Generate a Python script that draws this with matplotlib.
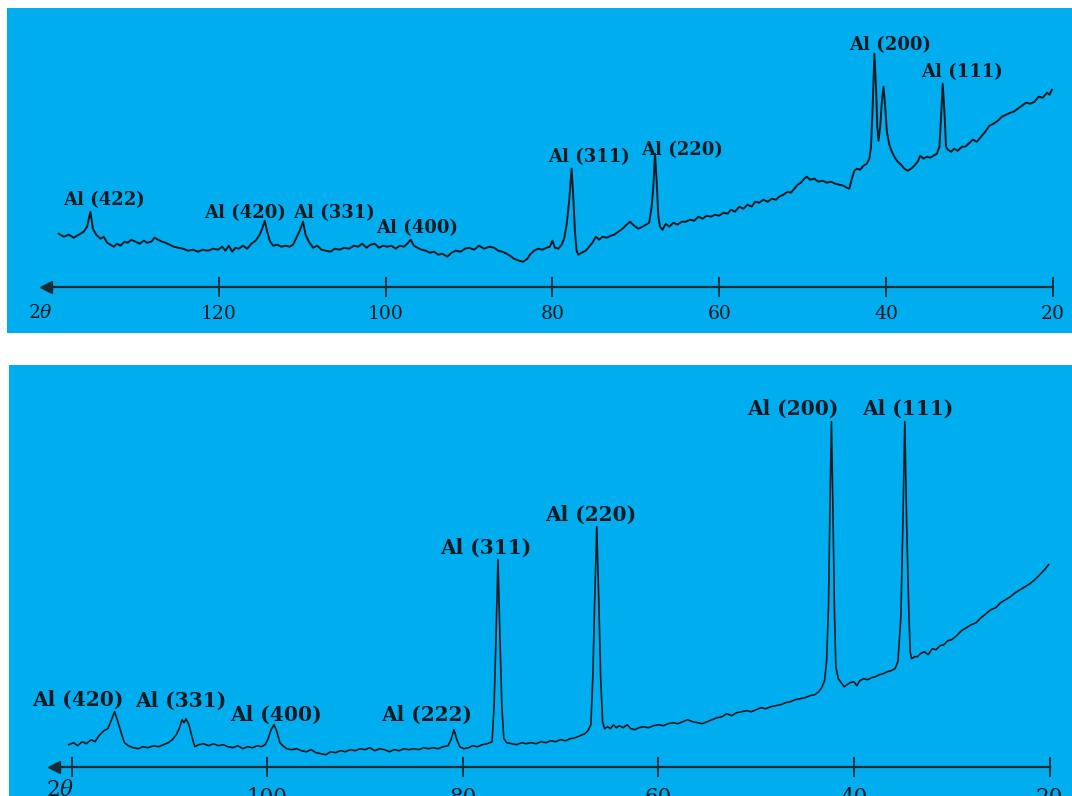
import matplotlib
matplotlib.use("Agg")
import matplotlib.pyplot as plt
import numpy as np

# ---------------- data: as-received sample (upper pattern) ----------------
top_two_theta = [
    139.2, 138.6, 138.0, 137.4, 136.8, 136.2, 135.8, 135.4, 135.1, 134.7,
    134.2, 133.8, 133.4, 133.0, 132.6, 132.2, 131.8, 131.3, 130.9, 130.5,
    130.0, 129.5, 129.0, 128.6, 128.1, 127.7, 127.3, 126.8, 126.4, 125.9,
    125.4, 124.9, 124.3, 123.7, 123.1, 122.5, 121.9, 121.3, 120.7, 120.1,
    119.6, 119.2, 118.8, 118.4, 118.0, 117.6, 117.1, 116.6, 116.1, 115.6,
    115.1, 114.8, 114.5, 114.2, 113.9, 113.5, 113.0, 112.5, 112.0, 111.5,
    111.1, 110.7, 110.3, 109.9, 109.6, 109.2, 108.7, 108.2, 107.7, 107.2,
    106.6, 106.1, 105.5, 105.0, 104.4, 103.8, 103.3, 102.8, 102.3, 101.8,
    101.3, 100.8, 100.3, 99.8, 99.3, 98.8, 98.3, 97.8, 97.4, 97.0,
    96.6, 96.2, 95.7, 95.2, 94.7, 94.2, 93.7, 93.2, 92.6, 92.1,
    91.6, 91.0, 90.5, 90.0, 89.4, 88.8, 88.2, 87.6, 87.0, 86.5,
    86.0, 85.5, 85.1, 84.6, 84.0, 83.5, 83.0, 82.7, 82.2, 81.7,
    81.2, 80.7, 80.3, 80.0, 79.7, 79.3, 78.9, 78.6, 78.3, 78.0,
    77.7, 77.5, 77.3, 77.1, 76.9, 76.5, 76.0, 75.6, 75.2, 74.8,
    74.4, 74.0, 73.5, 73.0, 72.6, 72.1, 71.6, 71.1, 70.7, 70.2,
    69.7, 69.2, 68.8, 68.4, 68.1, 67.9, 67.7, 67.5, 67.3, 67.1,
    66.8, 66.4, 66.0, 65.5, 65.0, 64.5, 64.0, 63.5, 63.0, 62.5,
    62.0, 61.5, 61.0, 60.5, 60.0, 59.5, 59.0, 58.6, 58.1, 57.6,
    57.1, 56.6, 56.1, 55.7, 55.2, 54.7, 54.2, 53.7, 53.2, 52.8,
    52.3, 51.8, 51.4, 51.0, 50.6, 50.2, 49.8, 49.5, 49.1, 48.6,
    48.1, 47.6, 47.1, 46.6, 46.1, 45.6, 45.1, 44.7, 44.4, 44.1,
    43.8, 43.5, 43.1, 42.7, 42.3, 42.0, 41.8, 41.6, 41.4, 41.2,
    41.05, 40.9, 40.7, 40.5, 40.3, 40.1, 39.9, 39.6, 39.3, 39.0,
    38.6, 38.2, 37.8, 37.4, 37.0, 36.6, 36.2, 35.9, 35.5, 35.1,
    34.7, 34.3, 33.9, 33.6, 33.4, 33.2, 33.0, 32.8, 32.6, 32.2,
    31.8, 31.4, 30.9, 30.5, 30.1, 29.6, 29.1, 28.6, 28.1, 27.6,
    27.1, 26.6, 26.1, 25.6, 25.1, 24.7, 24.2, 23.7, 23.2, 22.7,
    22.2, 21.7, 21.2, 20.7, 20.4, 20.1,
]
top_intensity = [
    53, 50, 52, 49, 52, 55, 60, 75, 58, 52,
    48, 50, 44, 42, 40, 43, 41, 45, 44, 47,
    45, 43, 46, 44, 45, 49, 47, 45, 44, 42,
    40, 39, 38, 36, 37, 35, 37, 36, 38, 37,
    40, 36, 41, 35, 39, 38, 41, 38, 43, 46,
    52, 58, 66, 55, 46, 41, 42, 40, 41, 40,
    42, 49, 56, 65, 52, 45, 39, 41, 37, 36,
    35, 38, 37, 39, 38, 41, 40, 43, 39, 42,
    43, 39, 41, 40, 41, 38, 41, 40, 43, 47,
    41, 39, 37, 36, 34, 35, 32, 33, 30, 34,
    36, 35, 38, 39, 37, 41, 38, 40, 39, 36,
    35, 33, 31, 28, 26, 25, 28, 32, 36, 38,
    37, 39, 40, 46, 39, 38, 42, 48, 62, 85,
    118, 90, 55, 36, 32, 34, 36, 40, 44, 50,
    47, 50, 49, 51, 52, 55, 58, 62, 65, 61,
    58, 60, 62, 64, 80, 100, 133, 105, 70, 60,
    57, 63, 60, 64, 62, 65, 65, 67, 66, 70,
    68, 71, 70, 72, 71, 74, 73, 77, 75, 80,
    78, 82, 80, 85, 84, 87, 85, 88, 87, 90,
    92, 95, 94, 98, 102, 104, 108, 110, 107, 108,
    105, 106, 104, 105, 103, 102, 101, 99, 98, 108,
    116, 118, 117, 121, 123, 128, 140, 180, 233, 200,
    160, 146, 160, 185, 200, 180, 155, 142, 135, 130,
    125, 122, 118, 116, 118, 121, 125, 131, 128, 130,
    129, 131, 133, 140, 170, 203, 175, 140, 137, 135,
    138, 136, 140, 140, 143, 147, 145, 150, 155, 161,
    163, 166, 170, 172, 174, 175, 178, 181, 184, 183,
    185, 190, 189, 194, 192, 197,
]
top_peak_labels = ["Al (422)", "Al (420)", "Al (331)", "Al (400)",
                   "Al (311)", "Al (220)", "Al (200)", "Al (111)"]

# ---------------- data: treated sample (lower pattern) ----------------
bottom_two_theta = [
    120.3, 119.8, 119.4, 118.9, 118.5, 118.0, 117.6, 117.2, 116.7, 116.3,
    116.0, 115.6, 115.3, 115.0, 114.6, 114.2, 113.7, 113.2, 112.7, 112.2,
    111.6, 111.1, 110.6, 110.1, 109.7, 109.3, 109.0, 108.7, 108.5, 108.3,
    108.0, 107.7, 107.4, 107.0, 106.5, 106.0, 105.5, 105.0, 104.5, 104.0,
    103.5, 103.0, 102.5, 102.0, 101.5, 101.0, 100.6, 100.2, 99.9, 99.6,
    99.3, 99.0, 98.7, 98.4, 98.0, 97.5, 97.0, 96.5, 96.0, 95.5,
    95.0, 94.5, 94.0, 93.5, 93.0, 92.5, 92.0, 91.5, 91.0, 90.5,
    90.0, 89.5, 89.0, 88.5, 88.0, 87.5, 87.0, 86.5, 86.0, 85.5,
    85.0, 84.5, 84.0, 83.5, 83.0, 82.5, 82.0, 81.5, 81.2, 80.9,
    80.6, 80.3, 79.9, 79.4, 79.0, 78.5, 78.0, 77.5, 77.0, 76.8,
    76.6, 76.4, 76.2, 76.0, 75.8, 75.5, 75.0, 74.5, 74.0, 73.5,
    73.0, 72.5, 72.0, 71.5, 71.0, 70.5, 70.0, 69.5, 69.0, 68.5,
    68.0, 67.5, 67.2, 66.9, 66.7, 66.5, 66.3, 66.1, 65.9, 65.7,
    65.5, 65.2, 64.9, 64.6, 64.3, 64.0, 63.6, 63.2, 62.8, 62.4,
    62.0, 61.5, 61.0, 60.5, 60.0, 59.5, 59.0, 58.5, 58.0, 57.5,
    57.0, 56.5, 56.0, 55.5, 55.0, 54.5, 54.0, 53.5, 53.0, 52.5,
    52.0, 51.5, 51.0, 50.5, 50.0, 49.5, 49.0, 48.5, 48.0, 47.5,
    47.0, 46.5, 46.0, 45.5, 45.0, 44.5, 44.0, 43.6, 43.3, 43.0,
    42.8, 42.6, 42.45, 42.3, 42.15, 42.0, 41.85, 41.6, 41.3, 41.0,
    40.7, 40.4, 40.0, 39.7, 39.4, 39.0, 38.6, 38.2, 37.8, 37.4,
    37.0, 36.6, 36.2, 35.8, 35.5, 35.2, 35.0, 34.8, 34.6, 34.4,
    34.25, 34.1, 33.8, 33.5, 33.2, 32.8, 32.4, 32.0, 31.6, 31.2,
    30.8, 30.4, 30.0, 29.5, 29.0, 28.5, 28.0, 27.5, 27.0, 26.5,
    26.0, 25.5, 25.0, 24.5, 24.0, 23.5, 23.0, 22.5, 22.0, 21.5,
    21.0, 20.5, 20.1,
]
bottom_intensity = [
    22, 24, 21, 25, 23, 27, 25, 31, 36, 38,
    45, 55, 46, 36, 24, 21, 19, 18, 20, 19,
    21, 20, 22, 24, 27, 32, 38, 47, 44, 48,
    42, 30, 20, 22, 23, 21, 23, 21, 22, 20,
    19, 21, 18, 20, 19, 21, 20, 22, 28, 37,
    42, 35, 24, 21, 18, 17, 18, 16, 15, 17,
    14, 13, 12, 15, 14, 16, 15, 17, 16, 18,
    17, 19, 16, 18, 17, 15, 17, 16, 18, 17,
    18, 17, 19, 18, 19, 18, 20, 21, 27, 37,
    27, 20, 18, 19, 21, 20, 22, 23, 25, 60,
    130, 207, 130, 60, 28, 24, 23, 22, 24, 23,
    24, 23, 25, 24, 26, 25, 27, 26, 28, 29,
    31, 33, 36, 42, 90, 170, 240, 170, 90, 45,
    38, 40, 38, 42, 39, 41, 39, 42, 38, 37,
    39, 40, 39, 41, 42, 41, 43, 44, 43, 45,
    47, 45, 44, 43, 45, 47, 49, 50, 53, 51,
    54, 55, 56, 55, 57, 59, 58, 60, 61, 62,
    64, 65, 67, 68, 69, 71, 72, 75, 79, 86,
    105, 160, 260, 345, 260, 160, 100, 88, 84, 80,
    82, 84, 85, 81, 86, 88, 87, 89, 90, 92,
    93, 95, 96, 98, 105, 150, 240, 345, 240, 160,
    115, 108, 110, 110, 113, 115, 112, 118, 117, 121,
    122, 126, 127, 131, 136, 139, 142, 144, 149, 153,
    157, 159, 164, 167, 170, 174, 177, 180, 183, 187,
    192, 197, 202,
]
bottom_peak_labels = ["Al (420)", "Al (331)", "Al (400)", "Al (222)",
                      "Al (311)", "Al (220)", "Al (200)", "Al (111)"]

tick_values = [120, 100, 80, 60, 40, 20]

# ---------------- layout / style ----------------
W, H = 1072, 796
PANEL = "#00AEEF"
INK = "#0e1a22"
AXIS = "#1b2b36"

plt.rcParams["mathtext.fontset"] = "dejavuserif"
fig = plt.figure(figsize=(W / 100, H / 100), dpi=100, facecolor="white")


def panel(rect_px, xlim, ylim):
    x0, y0, x1, y1 = rect_px
    ax = fig.add_axes([x0 / W, 1 - y1 / H, (x1 - x0) / W, (y1 - y0) / H])
    ax.set_facecolor(PANEL)
    ax.set_xlim(*xlim)
    ax.set_ylim(*ylim)
    for s in ("top", "left", "right"):
        ax.spines[s].set_visible(False)
    ax.spines["bottom"].set_position(("data", 0))
    ax.spines["bottom"].set_color(AXIS)
    ax.spines["bottom"].set_linewidth(1.6)
    ax.set_yticks([])
    return ax


def draw(ax, tt, ii, labels, label_pos, label_size, tick_size, tick_pad,
         arrow_x, theta_px, lw):
    ax.plot(tt, ii, color=INK, lw=lw, solid_joinstyle="round")
    ax.spines["bottom"].set_bounds(20, arrow_x)
    ax.plot([arrow_x], [0], marker="<", ms=9, color=AXIS, clip_on=False)
    ax.set_xticks(tick_values)
    ax.tick_params(axis="x", direction="inout", length=15, width=1.3,
                   color=AXIS, pad=tick_pad, labelcolor=INK,
                   labelsize=tick_size)
    for lab in ax.get_xticklabels():
        lab.set_family("DejaVu Serif")
    for text, (tx, ty) in zip(labels, label_pos):
        ax.text(tx, ty, text, ha="center", va="center", color=INK,
                fontsize=label_size, family="DejaVu Serif",
                fontweight="bold")
    ax.text(theta_px[0], theta_px[1], r"2$\theta$", ha="center", va="center",
            color=INK, fontsize=tick_size, family="DejaVu Serif")


# upper panel: 8.34 px per degree, axis line at y = 286.7 px
ax1 = panel((7, 8, 1072, 333), (145.4, 17.7), (-46.3, 278.7))
top_label_pos = [(133.8, 86.7), (116.9, 73.7), (106.2, 73.7), (96.2, 58.7),
                 (75.6, 129.7), (64.5, 136.7), (39.5, 241.7), (30.9, 214.7)]
draw(ax1, top_two_theta, top_intensity, top_peak_labels, top_label_pos,
     13, 13.5, 6, 140.7, (141.4, -26.3), 1.4)

# lower panel: 9.78 px per degree, axis line at y = 766.7 px
ax2 = panel((9, 365, 1072, 796), (126.4, 17.7), (-29.3, 401.7))
bottom_label_pos = [(119.4, 66.7), (108.8, 65.7), (99.1, 51.7), (83.7, 51.7),
                    (77.6, 218.7), (66.9, 251.7), (46.3, 357.7), (34.5, 357.7)]
draw(ax2, bottom_two_theta, bottom_intensity, bottom_peak_labels,
     bottom_label_pos, 14.5, 15.5, 7, 121.8, (121.2, -23.3), 1.2)
ax2.set_xticklabels([""] + [str(v) for v in tick_values[1:]])

fig.savefig("out.png", dpi=100, facecolor="white")
